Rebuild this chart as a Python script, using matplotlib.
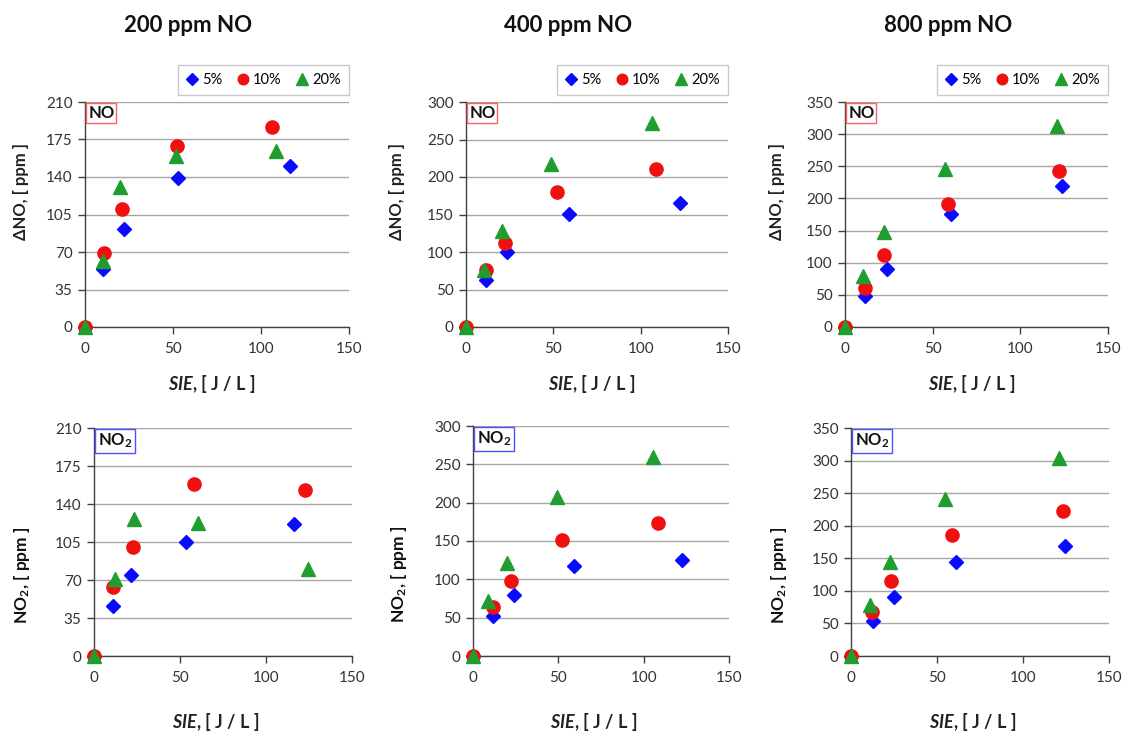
import matplotlib
matplotlib.use("Agg")
import matplotlib.pyplot as plt
from matplotlib.lines import Line2D

plt.rcParams['font.family'] = ['Lato', 'DejaVu Sans']
plt.rcParams['mathtext.fontset'] = 'custom'
plt.rcParams['mathtext.rm'] = 'Lato'
plt.rcParams['mathtext.bf'] = 'Lato:bold'
plt.rcParams['mathtext.it'] = 'Lato:italic:bold'

# ---------------- data ----------------
titles = ["200 ppm NO", "400 ppm NO", "800 ppm NO"]
series_labels = ["5%", "10%", "20%"]

# Delta NO (top row)
no200_x = {"5%": [0, 10.5, 21.9, 53.0, 116.7], "10%": [0, 10.8, 21.1, 52.1, 106.5], "20%": [0, 10.1, 19.8, 51.5, 108.6]}
no200_y = {"5%": [0, 54.4, 91.5, 139.4, 150.0], "10%": [0, 69.4, 109.8, 169.3, 186.7], "20%": [0, 61.6, 130.7, 159.6, 164.3]}
no400_x = {"5%": [0, 11.2, 23.2, 58.8, 122.8], "10%": [0, 11.2, 22.3, 52.0, 108.5], "20%": [0, 10.1, 20.4, 48.7, 106.4]}
no400_y = {"5%": [0, 63.0, 100.4, 150.2, 165.3], "10%": [0, 75.6, 112.4, 179.6, 210.2], "20%": [0, 76.4, 128.0, 216.9, 272.0]}
no800_x = {"5%": [0, 11.6, 23.8, 60.3, 123.9], "10%": [0, 11.6, 22.5, 58.8, 122.0], "20%": [0, 10.5, 22.1, 57.3, 120.9]}
no800_y = {"5%": [0, 48.2, 90.7, 175.3, 219.8], "10%": [0, 60.1, 112.0, 191.3, 242.1], "20%": [0, 78.8, 147.8, 245.8, 312.1]}

# NO2 (bottom row)
no2_200_x = {"5%": [0, 11.1, 21.8, 53.2, 116.5], "10%": [0, 11.1, 22.6, 58.4, 122.6], "20%": [0, 12.1, 23.2, 60.4, 124.3]}
no2_200_y = {"5%": [0, 45.7, 74.5, 105.1, 121.7], "10%": [0, 63.2, 100.6, 158.2, 152.7], "20%": [0, 70.5, 126.0, 122.3, 80.3]}
no2_400_x = {"5%": [0, 11.5, 24.0, 59.2, 122.7], "10%": [0, 11.5, 22.2, 52.2, 108.3], "20%": [0, 9.0, 19.7, 49.1, 105.4]}
no2_400_y = {"5%": [0, 52.5, 79.5, 117.2, 124.6], "10%": [0, 64.3, 97.7, 151.1, 174.1], "20%": [0, 72.1, 120.7, 207.6, 259.7]}
no2_800_x = {"5%": [0, 12.8, 25.0, 60.9, 124.6], "10%": [0, 12.4, 23.1, 58.9, 123.1], "20%": [0, 11.2, 22.9, 54.8, 120.9]}
no2_800_y = {"5%": [0, 53.1, 90.4, 144.6, 168.1], "10%": [0, 66.9, 115.0, 185.0, 222.3], "20%": [0, 78.2, 143.6, 241.2, 303.5]}

y_ticks_200 = [0, 35, 70, 105, 140, 175, 210]
y_ticks_400 = [0, 50, 100, 150, 200, 250, 300]
y_ticks_800 = [0, 50, 100, 150, 200, 250, 300, 350]
x_ticks = [0, 50, 100, 150]

# ---------------- style ----------------
styles = {
    "5%": dict(marker='D', color='#0a0aff', ms=7.2),
    "10%": dict(marker='o', color='#f01010', ms=9.5),
    "20%": dict(marker='^', color='#1f9e2f', ms=10.5),
}

W, H = 1122, 732
fig = plt.figure(figsize=(W / 100, H / 100), dpi=100)


def px_axes(l, r, t, b):
    return fig.add_axes([l / W, 1 - b / H, (r - l) / W, (b - t) / H])


panels = [
    ((85, 349, 102, 327), no200_x, no200_y, y_ticks_200, 0, -0.212),
    ((466, 728, 102, 327), no400_x, no400_y, y_ticks_400, 0, -0.233),
    ((845, 1108, 102, 327), no800_x, no800_y, y_ticks_800, 0, -0.228),
    ((94, 352, 428, 656), no2_200_x, no2_200_y, y_ticks_200, 1, -0.240),
    ((473, 729, 426, 656), no2_400_x, no2_400_y, y_ticks_400, 1, -0.250),
    ((851, 1109, 428, 656), no2_800_x, no2_800_y, y_ticks_800, 1, -0.240),
]

axis_col = '#404040'
for (box, xd, yd, yt, row, ylx) in panels:
    ax = px_axes(*box)
    ax.set_xlim(x_ticks[0], x_ticks[-1])
    ax.set_ylim(yt[0], yt[-1])
    ax.set_xticks(x_ticks)
    ax.set_yticks(yt)
    ax.grid(axis='y', color='#a6a6a6', lw=1.0)
    ax.set_axisbelow(True)
    for s in ['top', 'right']:
        ax.spines[s].set_visible(False)
    for s in ['left', 'bottom']:
        ax.spines[s].set_color(axis_col)
        ax.spines[s].set_linewidth(1.0)
    ax.tick_params(axis='both', colors=axis_col, labelcolor='#333333', labelsize=11,
                   length=5, width=1.0, direction='out')
    ax.tick_params(axis='x', pad=6)
    ax.tick_params(axis='y', pad=4)
    for lab in series_labels:
        st = styles[lab]
        ax.plot(xd[lab], yd[lab], linestyle='none', marker=st['marker'], color=st['color'],
                ms=st['ms'], mec=st['color'], clip_on=False, zorder=3, label=lab)
    ax.set_xlabel(r'$\mathit{SIE}$, [ J / L ]', fontsize=13, fontweight='bold', color='#222222')
    if row == 0:
        ax.set_ylabel('ΔNO, [ ppm ]', fontsize=12, fontweight='bold', color='#222222')
        ax.yaxis.set_label_coords(ylx, 0.60)
        ax.xaxis.set_label_coords(0.48, -0.205)
        ax.text(0.012, 0.985, 'NO', transform=ax.transAxes, ha='left', va='top',
                fontsize=12, fontweight='bold', color='#111111',
                bbox=dict(boxstyle='square,pad=0.12', fc='white', ec='#ff6060', lw=1.0))
        handles = [Line2D([], [], linestyle='none', marker=styles[l]['marker'],
                          color=styles[l]['color'], ms=styles[l]['ms'] * 0.8) for l in series_labels]
        leg = ax.legend(handles, series_labels, loc='lower right', bbox_to_anchor=(1.0, 1.03),
                        ncol=3, frameon=True, fancybox=False, fontsize=10.5,
                        handlelength=0.8, handletextpad=0.3, columnspacing=1.0,
                        borderpad=0.55, borderaxespad=0.0)
        leg.get_frame().set_edgecolor('#bfbfbf')
        leg.get_frame().set_linewidth(1.0)
    else:
        ax.set_ylabel(r'$\mathbf{NO_2}$, [ ppm ]', fontsize=12.5, fontweight='bold', color='#111111')
        ax.yaxis.set_label_coords(ylx, 0.355)
        ax.xaxis.set_label_coords(0.47, -0.24)
        ax.text(0.015, 0.985, r'$\mathbf{NO_2}$', transform=ax.transAxes, ha='left', va='top',
                fontsize=12, color='#111111',
                bbox=dict(boxstyle='square,pad=0.15', fc='white', ec='#5050ff', lw=1.0))

for cx, t in zip([188, 568, 948], titles):
    fig.text(cx / W, 1 - 25 / H, t, ha='center', va='center', fontsize=16, fontweight='bold',
             color='#111111')

fig.savefig('out.png', dpi=100)
